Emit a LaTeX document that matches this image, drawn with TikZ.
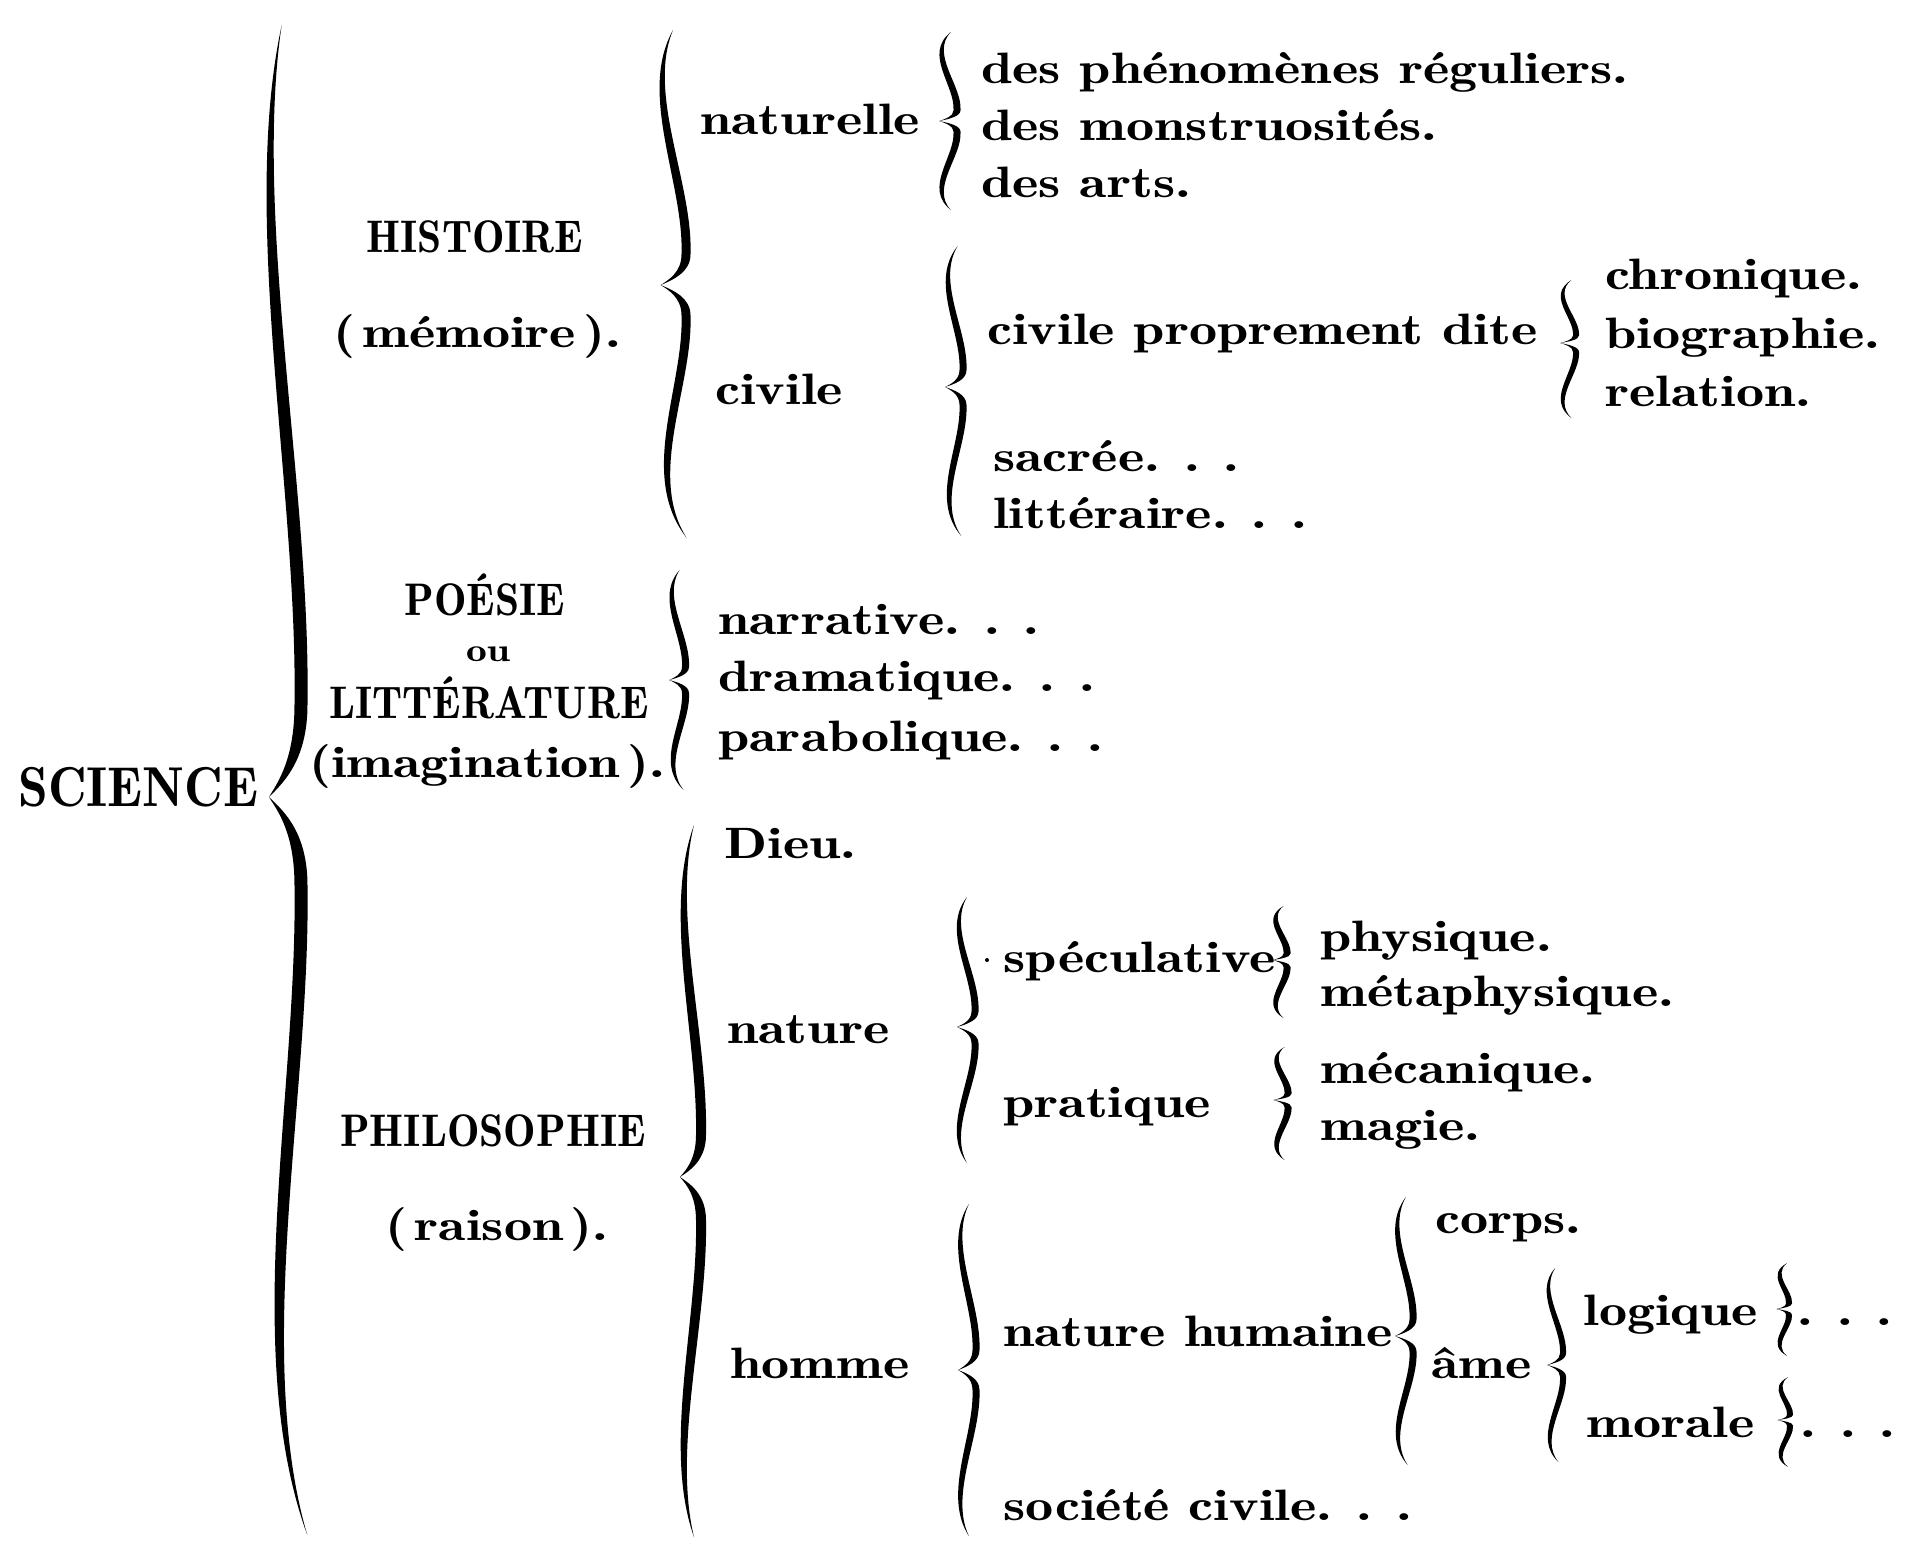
\documentclass[tikz,border=0pt]{standalone}
\usepackage{fontspec}
\setmainfont{lmromandemi10-regular.otf}[FakeStretch=1.28]
\newfontfamily\capsfont{lmromandemi10-regular.otf}[FakeStretch=0.95]
\newcommand\ddd{.\hspace{0.55em}.\hspace{0.55em}.}
% brace: X (left edge), top, tip, bottom, halfwidth, thickness, top-end offset, bottom-end offset (in halfwidths)
\newcommand\brc[8]{%
 \pgfmathsetmacro\brX{#1}\pgfmathsetmacro\brT{#2}\pgfmathsetmacro\brM{#3}\pgfmathsetmacro\brB{#4}%
 \pgfmathsetmacro\brW{#5}\pgfmathsetmacro\brD{#6}\pgfmathsetmacro\brEt{#7}\pgfmathsetmacro\brEb{#8}%
 \pgfmathsetmacro\brHu{\brM-\brT}\pgfmathsetmacro\brHl{\brB-\brM}%
 \fill[brcstyle]
  ({\brX+\brEt*\brW},\brT)
  .. controls ({\brX-2.4*\brW},{\brT+0.25*\brHu}) and ({\brX+1.2*\brW},{\brT+0.6*\brHu}) .. ({\brX+\brW},{\brT+0.88*\brHu})
  .. controls ({\brX+\brW},{\brT+0.95*\brHu}) and ({\brX},{\brM-0.02*\brHu}) .. ({\brX-0.6*\brW},\brM)
  .. controls ({\brX},{\brM+0.02*\brHl}) and ({\brX+\brW},{\brM+0.05*\brHl}) .. ({\brX+\brW},{\brM+0.12*\brHl})
  .. controls ({\brX+1.2*\brW},{\brM+0.4*\brHl}) and ({\brX-2.4*\brW},{\brM+0.75*\brHl}) .. ({\brX+\brEb*\brW},\brB)
  .. controls ({\brX-2.4*\brW+\brD},{\brM+0.75*\brHl}) and ({\brX+1.2*\brW+\brD},{\brM+0.4*\brHl}) .. ({\brX+\brW+\brD},{\brM+0.12*\brHl})
  .. controls ({\brX+\brW+\brD},{\brM+0.05*\brHl}) and ({\brX+0.5*\brD},{\brM+0.02*\brHl}) .. ({\brX-0.6*\brW},\brM)
  .. controls ({\brX+0.5*\brD},{\brM-0.02*\brHu}) and ({\brX+\brW+\brD},{\brT+0.95*\brHu}) .. ({\brX+\brW+\brD},{\brT+0.88*\brHu})
  .. controls ({\brX+1.2*\brW+\brD},{\brT+0.6*\brHu}) and ({\brX-2.4*\brW+\brD},{\brT+0.25*\brHu}) .. ({\brX+\brEt*\brW},\brT)
  -- cycle;}
\begin{document}
\begin{tikzpicture}[x=0.02cm,y=-0.02cm,
  txt/.style={anchor=base west,inner sep=0pt,font=\fontsize{25}{30}\selectfont},
  lab/.style={anchor=base,inner sep=0pt,font=\capsfont\fontsize{26}{30}\selectfont},
  paren/.style={anchor=base,inner sep=0pt,font=\fontsize{25}{30}\selectfont},
  brcstyle/.style={fill=black}]
\fill[white] (0,0) rectangle (1905,1543);
% root
\node[anchor=base west,inner sep=0pt,font=\capsfont\fontsize{32}{36}\selectfont] (science) at (18,806) {SCIENCE};
% level 1
\node[lab] (hist) at (475,252) {HISTOIRE};
\node[paren] (mem) at (477,347) {(\,mémoire\,).};
\node[lab] (poes) at (485,615) {POÉSIE};
\node[paren,font=\fontsize{18.5}{20}\selectfont] (ou) at (488,661) {ou};
\node[lab] (litt) at (489,718) {LITTÉRATURE};
\node[paren] (imag) at (487,777) {(imagination\,).};
\node[lab] (phil) at (493,1146) {PHILOSOPHIE};
\node[paren] (rais) at (497,1240) {(\,raison\,).};
% histoire
\node[txt] (natl) at (700,134) {naturelle};
\node[txt] (civ) at (715,404) {civile};
\node[txt] (phen) at (981,83) {des phénomènes réguliers.};
\node[txt] (mons) at (981,140) {des monstruosités.};
\node[txt] (arts) at (981,197) {des arts.};
\node[txt] (cpd) at (987,344) {civile proprement dite};
\node[txt] (chro) at (1605,289) {chronique.};
\node[txt] (biog) at (1605,348) {biographie.};
\node[txt] (rela) at (1605,406) {relation.};
\node[txt] (sacr) at (993,471) {sacrée.\hspace{0.55em}.\hspace{0.55em}.};
\node[txt] (litr) at (993,528) {littéraire.\hspace{0.55em}.\hspace{0.55em}.};
% poesie
\node[txt] (narr) at (718,634) {narrative.\hspace{0.55em}.\hspace{0.55em}.};
\node[txt] (dram) at (718,691) {dramatique.\hspace{0.55em}.\hspace{0.55em}.};
\node[txt] (para) at (718,751) {parabolique.\hspace{0.55em}.\hspace{0.55em}.};
% philosophie
\node[txt] (dieu) at (724,858) {Dieu.};
\node[txt] (natu) at (727,1043) {nature};
\node[txt] (spec) at (1003,972) {spéculative};
\fill (987,960) circle (2);
\node[txt] (phys) at (1320,951) {physique.};
\node[txt] (meta) at (1320,1006) {métaphysique.};
\node[txt] (prat) at (1003,1117) {pratique};
\node[txt] (meca) at (1320,1083) {mécanique.};
\node[txt] (magi) at (1320,1140) {magie.};
\node[txt] (homm) at (730,1378) {homme};
\node[txt] (nath) at (1003,1346) {nature humaine};
\node[txt] (corp) at (1435,1233) {corps.};
\node[txt] (ame) at (1431,1378) {âme};
\node[txt] (logi) at (1583,1325) {logique};
\node[txt] (logd) at (1797,1325) {\ddd};
\node[txt] (mora) at (1586,1437) {morale};
\node[txt] (mord) at (1800,1437) {\ddd};
\node[txt] (soci) at (1003,1520) {société civile.\hspace{0.55em}.\hspace{0.55em}.};
% braces
\brc{278.5}{25}{797}{1535}{16}{13}{0.2}{1.8}
\brc{668.5}{30}{285}{538}{13}{9}{0.35}{1.4}
\brc{674}{570}{680}{790}{8}{7}{0.7}{1.2}
\brc{686}{825}{1177}{1537}{10}{10}{0.8}{0.8}
\brc{944.5}{32}{121}{210}{9}{7}{0.7}{0.7}
\brc{950.5}{246}{387}{536}{9}{7}{0.8}{1.2}
\brc{1565}{280}{343}{418}{8}{6}{0.8}{0.8}
\brc{962.5}{897}{1027}{1163}{9}{7}{0.5}{0.5}
\brc{1276.5}{906}{960}{1018}{7}{7}{1.0}{1.0}
\brc{1277.5}{1047}{1100}{1160}{7}{7}{1.0}{1.0}
\brc{963.5}{1204}{1370}{1536}{9}{7}{0.6}{0.6}
\brc{1400.5}{1197}{1336}{1465}{9}{7}{0.6}{0.8}
\brc{1552}{1268}{1365}{1462}{8}{6}{0.4}{0.8}
\brc{1780}{1263}{1309}{1356}{6}{6}{1.2}{1.2}
\brc{1781}{1377}{1420}{1467}{6}{6}{1.2}{1.2}
\end{tikzpicture}
\end{document}
